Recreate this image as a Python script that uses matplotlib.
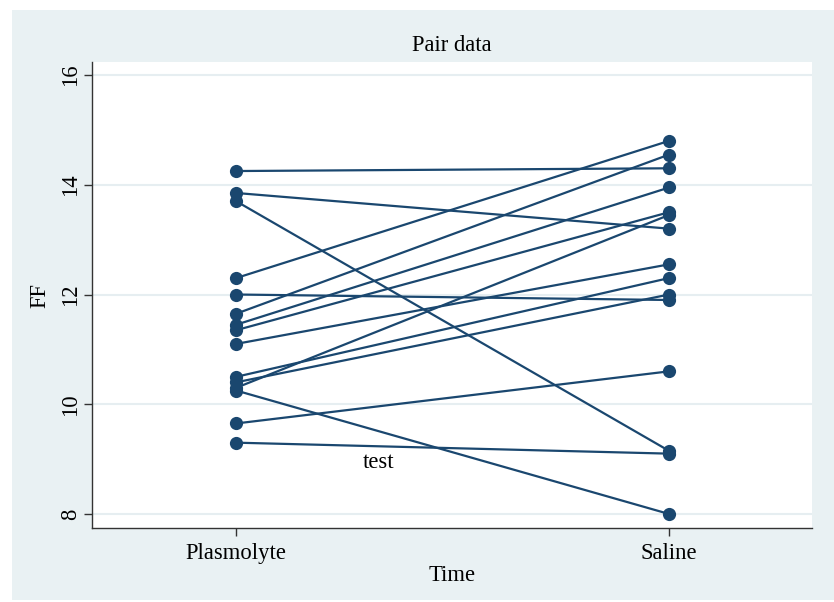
import matplotlib
matplotlib.use("Agg")
import matplotlib.pyplot as plt
from matplotlib.patches import Rectangle

# Paired FF measurements per subject
groups = ["Plasmolyte", "Saline"]
plasmolyte = [14.25, 13.85, 13.70, 12.30, 12.00, 11.65, 11.45, 11.35,
              11.10, 10.50, 10.40, 10.30, 10.25, 9.65, 9.30]
saline = [14.30, 13.20, 9.15, 14.80, 11.90, 14.55, 13.95, 13.50,
          12.55, 12.30, 12.00, 13.45, 8.00, 10.60, 9.10]
y_ticks = [8, 10, 12, 14, 16]

navy = "#1a476f"
panel = "#e9f1f3"
grid = "#e6eef1"
fs = 16.3

plt.rcParams["font.family"] = ["Liberation Serif", "DejaVu Serif"]

W, H = 834, 602
fig = plt.figure(figsize=(W / 100, H / 100), dpi=100)
fig.patch.set_facecolor("white")
fig.patches.append(Rectangle((12 / W, 2 / H), 1 - 12 / W, (600 - 10) / H,
                             transform=fig.transFigure, facecolor=panel,
                             edgecolor="none", zorder=-10))

ax = fig.add_axes([92 / W, 1 - 528 / H, (812 - 92) / W, (528 - 62) / H])
ax.set_zorder(1)
ax.set_facecolor("white")

for a, b in zip(plasmolyte, saline):
    ax.plot([1, 2], [a, b], color=navy, lw=1.6, marker="o",
            markersize=9.5, markeredgewidth=0, zorder=3)

ax.set_xlim(0.667, 2.330)
ax.set_ylim(7.745, 16.237)
ax.set_xticks([1, 2])
ax.set_xticklabels(groups)
ax.set_yticks(y_ticks)
ax.set_yticklabels([str(t) for t in y_ticks], rotation=90, va="center")

for t in y_ticks:
    ax.axhline(t, color=grid, lw=1.5, zorder=1)

for s in ["top", "right"]:
    ax.spines[s].set_visible(False)
for s in ["left", "bottom"]:
    ax.spines[s].set_color("#333333")
    ax.spines[s].set_linewidth(1.0)

ax.tick_params(axis="both", direction="out", length=5.5, width=1.0,
               color="#333333", labelsize=fs)
ax.tick_params(axis="x", pad=5)
ax.tick_params(axis="y", pad=2.5)

ax.set_xlabel("Time", fontsize=fs, labelpad=1)
ax.set_ylabel("FF", fontsize=fs, labelpad=7)
ax.set_title("Pair data", fontsize=fs, pad=8)

ax.text(1.328, 8.93, "test", fontsize=fs, ha="center", va="center")

fig.savefig("out.png", dpi=100)
